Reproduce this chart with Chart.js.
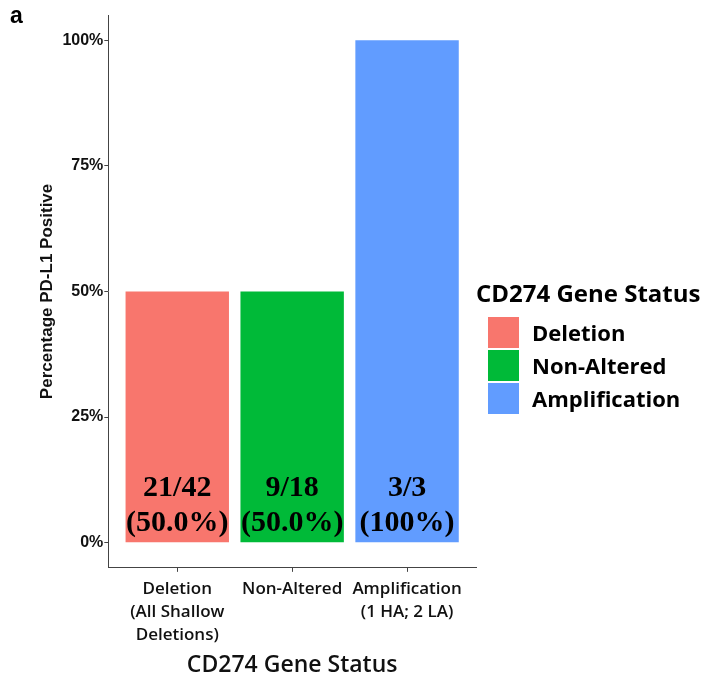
<!DOCTYPE html>
<html>
<head>
<meta charset="utf-8">
<script src="https://cdn.jsdelivr.net/npm/chart.js@4.4.0/dist/chart.umd.min.js"></script>
<style>
    html, body { margin: 0; padding: 0; background: #fff; }
    #wrap { position: relative; width: 709px; height: 680px; }
    #panel { position: absolute; left: 10px; top: 4px; font: bold 23px "Liberation Sans", Arial, sans-serif; line-height: 23px; color: #000; }
    #legend { position: absolute; left: 476px; top: 278px; font-family: "Open Sans", sans-serif; color: #000; }
    #legend .title { font-size: 24px; font-weight: bold; line-height: 30px; white-space: nowrap; }
    #legendItems { margin-top: 9px; margin-left: 12px; }
    #legend .row { height: 31px; margin-bottom: 2px; display: flex; align-items: center; }
    #legend .swatch { width: 31px; height: 31px; display: inline-block; }
    #legend .label { margin-left: 13px; font-size: 22px; font-weight: bold; line-height: 31px; white-space: nowrap; }
</style>
</head>
<body>
<div id="wrap">
    <canvas id="myChart" width="709" height="680"></canvas>
    <div id="panel">a</div>
    <div id="legend">
        <div class="title">CD274 Gene Status</div>
        <div id="legendItems"></div>
    </div>
</div>
<script>
const categories = ['Deletion', 'Non-Altered', 'Amplification'];
const tickLabels = [['Deletion', '(All Shallow', 'Deletions)'], ['Non-Altered'], ['Amplification', '(1 HA; 2 LA)']];
const percentPositive = [50, 50, 100];
const positiveCounts = [21, 9, 3];
const totalCounts = [42, 18, 3];
const percentLabels = ['(50.0%)', '(50.0%)', '(100%)'];
const barColors = ['#F8766D', '#00BA38', '#619CFF'];
const yTicks = [0, 25, 50, 75, 100];

const axisColor = '#444';
const textColor = '#111';

//count labels inside the bars
const barTextPlugin = {
    id: 'barText',
    afterDatasetsDraw(chart) {
        const ctx = chart.ctx;
        ctx.save();
        ctx.font = 'bold 30px "Liberation Serif", "Times New Roman", serif';
        ctx.fillStyle = '#000';
        ctx.textAlign = 'center';
        ctx.textBaseline = 'middle';
        chart.data.datasets.forEach((ds, i) => {
            const bar = chart.getDatasetMeta(i).data[0];
            ctx.fillText(positiveCounts[i] + '/' + totalCounts[i], bar.x, bar.base - 54);
            ctx.fillText(percentLabels[i], bar.x, bar.base - 19);
        });
        ctx.restore();
    }
};

//legend built from the chart's own legend items
const htmlLegendPlugin = {
    id: 'htmlLegend',
    afterUpdate(chart) {
        const legend = document.getElementById('legend');
        legend.style.left = chart.chartArea.right + 'px';
        const list = document.getElementById('legendItems');
        list.innerHTML = '';
        const items = chart.options.plugins.legend.labels.generateLabels(chart);
        items.forEach(item => {
            const row = document.createElement('div');
            row.className = 'row';
            const swatch = document.createElement('span');
            swatch.className = 'swatch';
            swatch.style.background = item.fillStyle;
            const label = document.createElement('span');
            label.className = 'label';
            label.textContent = item.text;
            row.appendChild(swatch);
            row.appendChild(label);
            list.appendChild(row);
        });
    }
};

const datasets = categories.map((name, i) => ({
    label: name,
    data: [{ x: i + 1, y: percentPositive[i] }],
    backgroundColor: barColors[i],
    borderWidth: 0,
    grouped: false,
    categoryPercentage: 1,
    barPercentage: 0.9
}));

const ctx = document.getElementById('myChart');
new Chart(ctx, {
    type: 'bar',
    data: { datasets: datasets },
    plugins: [barTextPlugin, htmlLegendPlugin],
    options: {
        responsive: false,
        animation: false,
        events: [],
        layout: {
            padding: { top: 15, left: 20, right: 233, bottom: 0 }
        },
        plugins: {
            tooltip: { enabled: false },
            legend: { display: false }
        },
        scales: {
            x: {
                type: 'linear',
                offset: false,
                min: 0.4,
                max: 3.6,
                afterBuildTicks: (scale) => {
                    scale.ticks = categories.map((c, i) => ({ value: i + 1 }));
                },
                ticks: {
                    autoSkip: false,
                    maxRotation: 0,
                    padding: 6,
                    color: textColor,
                    font: { family: '"Open Sans"', size: 17, weight: '600', lineHeight: '23px' },
                    callback: (value, index) => tickLabels[index]
                },
                grid: { offset: false, drawOnChartArea: false, drawTicks: true, tickLength: 4, color: axisColor, lineWidth: 1 },
                border: { display: true, color: axisColor, width: 1 },
                title: {
                    display: true,
                    text: 'CD274 Gene Status',
                    color: textColor,
                    font: { family: '"Open Sans"', size: 23, weight: '600', lineHeight: 1.05 },
                    padding: { top: 1, bottom: 2 }
                }
            },
            y: {
                min: -5,
                max: 105,
                afterBuildTicks: (scale) => {
                    scale.ticks = yTicks.map(v => ({ value: v }));
                },
                ticks: {
                    padding: 1,
                    color: textColor,
                    font: { family: '"Liberation Sans"', size: 16, weight: 'bold' },
                    callback: (value) => value + '%'
                },
                grid: { drawOnChartArea: false, drawTicks: true, tickLength: 4, color: axisColor, lineWidth: 1 },
                border: { display: true, color: axisColor, width: 1 },
                title: {
                    display: true,
                    text: 'Percentage PD-L1 Positive',
                    color: textColor,
                    font: { family: '"Liberation Sans"', size: 17, weight: 'bold' },
                    padding: { top: 17, bottom: 4 }
                }
            }
        }
    }
});
</script>
</body>
</html>
